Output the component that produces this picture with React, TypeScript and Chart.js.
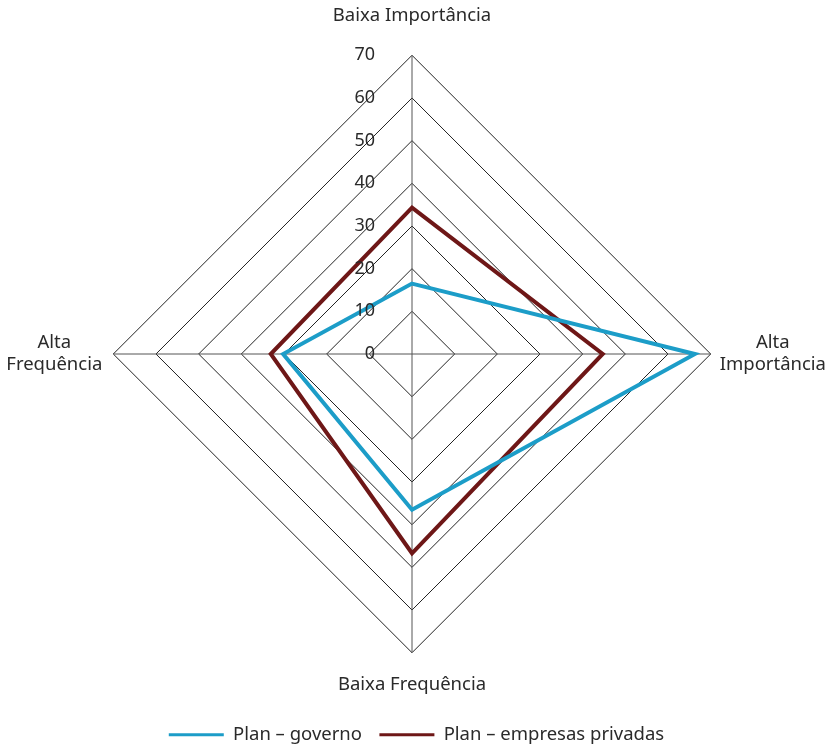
import React, { useEffect, useRef } from "react";
import { Chart, registerables } from "chart.js";

Chart.register(...registerables);

const categories: (string | string[])[] = [
  "Baixa Importância",
  ["Alta", "Importância"],
  "Baixa Frequência",
  ["Alta", "Frequência"],
];
const governoValues = [16.5, 66.3, 36.5, 30.2];
const empresasValues = [34.3, 44.7, 46.7, 33.1];
const tickValues = [0, 10, 20, 30, 40, 50, 60, 70];
const seriesNames = ["Plan – governo", "Plan – empresas privadas"];

const FONT = "'Noto Sans', 'Open Sans', sans-serif";
const LABEL_SIZE = 18.5;
const TEXT_COLOR = "#2a2a2a";

const overlayPlugin = {
  id: "overlayText",
  afterDatasetsDraw(chart: any) {
    const scale = chart.scales.r;
    const ctx = chart.ctx;
    ctx.save();
    ctx.font = `18px ${FONT}`;
    ctx.fillStyle = TEXT_COLOR;
    ctx.textAlign = "right";
    ctx.textBaseline = "middle";
    for (const v of tickValues) {
      const d = scale.getDistanceFromCenterForValue(v);
      ctx.fillText(String(v), scale.xCenter - 37, scale.yCenter - d);
    }
    const items = scale._pointLabelItems || [];
    const lineHeight = LABEL_SIZE * 1.2;
    ctx.font = `${LABEL_SIZE}px ${FONT}`;
    ctx.textAlign = "center";
    items.forEach((it: any, i: number) => {
      const lab = categories[i];
      const lines = Array.isArray(lab) ? lab : [lab];
      const cx = (it.left + it.right) / 2;
      lines.forEach((ln, j) => {
        ctx.fillText(ln, cx, it.top + lineHeight / 2 + j * lineHeight);
      });
    });
    ctx.restore();
  },
};

export default function App() {
  const ref = useRef<HTMLCanvasElement>(null);
  useEffect(() => {
    if (!ref.current) return;
    const chart = new Chart(ref.current, {
      type: "radar",
      data: {
        labels: categories,
        datasets: [
          {
            label: seriesNames[0],
            data: governoValues,
            borderColor: "#1c9dc8",
            backgroundColor: "#1c9dc8",
            borderWidth: 4,
            fill: false,
            pointRadius: 0,
            pointHoverRadius: 0,
          },
          {
            label: seriesNames[1],
            data: empresasValues,
            borderColor: "#6e1717",
            backgroundColor: "#6e1717",
            borderWidth: 4,
            fill: false,
            pointRadius: 0,
            pointHoverRadius: 0,
          },
        ],
      },
      options: {
        animation: false,
        responsive: true,
        maintainAspectRatio: false,
        layout: { padding: { top: 0, bottom: 0, left: 0, right: 0 } },
        plugins: {
          tooltip: { enabled: false },
          legend: {
            position: "bottom",
            labels: {
              font: { family: FONT, size: LABEL_SIZE },
              color: TEXT_COLOR,
              boxWidth: 55,
              boxHeight: 3,
              padding: 3,
              generateLabels(c: any) {
                const items = Chart.defaults.plugins.legend.labels.generateLabels(c);
                return items.map((it: any, i: number) => ({
                  ...it,
                  lineWidth: 0,
                  text: i === 0 ? it.text + "   " : it.text,
                }));
              },
            },
          },
        },
        scales: {
          r: {
            min: 0,
            max: 70,
            beginAtZero: true,
            ticks: { display: false, stepSize: 10 },
            grid: { color: "#222", lineWidth: 1 },
            angleLines: { color: "#555", lineWidth: 1 },
            pointLabels: {
              font: { family: FONT, size: LABEL_SIZE },
              color: "rgba(0,0,0,0)",
              padding: (ctx: any) => [28, 9, 21, 11][ctx.index],
            },
          },
        },
      },
      plugins: [overlayPlugin],
    });
    return () => chart.destroy();
  }, []);
  return (
    <div style={{ position: "absolute", left: 0, top: 0, width: 827, height: 745, overflow: "hidden" }}>
      <div style={{ position: "absolute", left: 3, top: -21, width: 827, height: 775 }}>
        <canvas ref={ref} />
      </div>
    </div>
  );
}
